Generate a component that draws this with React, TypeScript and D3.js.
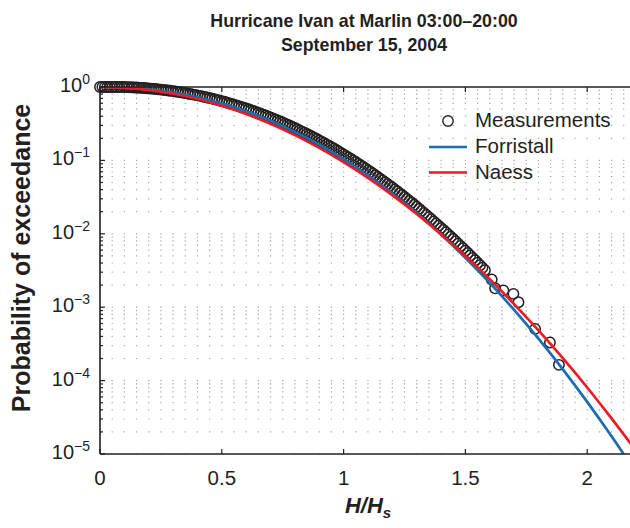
import React from "react";
import * as d3 from "d3";

// ---- data ----
const measX = [
  0, 0.01, 0.02, 0.03, 0.04, 0.05, 0.06, 0.07, 0.08, 0.09,
  0.1, 0.11, 0.12, 0.13, 0.14, 0.15, 0.16, 0.17, 0.18, 0.19,
  0.2, 0.21, 0.22, 0.23, 0.24, 0.25, 0.26, 0.27, 0.28, 0.29,
  0.3, 0.31, 0.32, 0.33, 0.34, 0.35, 0.36, 0.37, 0.38, 0.39,
  0.4, 0.41, 0.42, 0.43, 0.44, 0.45, 0.46, 0.47, 0.48, 0.49,
  0.5, 0.51, 0.52, 0.53, 0.54, 0.55, 0.56, 0.57, 0.58, 0.59,
  0.6, 0.61, 0.62, 0.63, 0.64, 0.65, 0.66, 0.67, 0.68, 0.69,
  0.7, 0.71, 0.72, 0.73, 0.74, 0.75, 0.76, 0.77, 0.78, 0.79,
  0.8, 0.81, 0.82, 0.83, 0.84, 0.85, 0.86, 0.87, 0.88, 0.89,
  0.9, 0.91, 0.92, 0.93, 0.94, 0.95, 0.96, 0.97, 0.98, 0.99,
  1.0, 1.01, 1.02, 1.03, 1.04, 1.05, 1.06, 1.07, 1.08, 1.09,
  1.1, 1.11, 1.12, 1.13, 1.14, 1.15, 1.16, 1.17, 1.18, 1.19,
  1.2, 1.21, 1.22, 1.23, 1.24, 1.25, 1.26, 1.27, 1.28, 1.29,
  1.3, 1.31, 1.32, 1.33, 1.34, 1.35, 1.36, 1.37, 1.38, 1.39,
  1.4, 1.41, 1.42, 1.43, 1.44, 1.45, 1.46, 1.47, 1.48, 1.49,
  1.5, 1.51, 1.52, 1.53, 1.54, 1.55, 1.56, 1.57, 1.58,
  1.608, 1.622, 1.656, 1.697, 1.718, 1.786, 1.847, 1.884,
];
const measP = [
  1, 1, 1, 1, 1, 1, 1, 1, 1, 0.9999,
  0.998, 0.9957, 0.993, 0.9899, 0.9864, 0.9825, 0.9782, 0.9735, 0.9684, 0.9629,
  0.957, 0.9507, 0.944, 0.937, 0.9296, 0.9219, 0.9138, 0.9053, 0.8965, 0.8874,
  0.878, 0.8683, 0.8583, 0.848, 0.8374, 0.8266, 0.8155, 0.8042, 0.7926, 0.7809,
  0.7689, 0.7568, 0.7445, 0.7321, 0.7195, 0.7068, 0.6939, 0.681, 0.668, 0.6549,
  0.6417, 0.6285, 0.6153, 0.602, 0.5888, 0.5755, 0.5623, 0.549, 0.5359, 0.5227,
  0.5096, 0.4966, 0.4837, 0.4709, 0.4582, 0.4456, 0.4331, 0.4208, 0.4086, 0.3966,
  0.3847, 0.3729, 0.3614, 0.35, 0.3388, 0.3278, 0.317, 0.3063, 0.2959, 0.2857,
  0.2757, 0.2659, 0.2563, 0.2469, 0.2378, 0.2289, 0.2201, 0.2116, 0.2034, 0.1953,
  0.1875, 0.1798, 0.1724, 0.1653, 0.1583, 0.1515, 0.145, 0.1386, 0.1325, 0.1266,
  0.1208, 0.1153, 0.11, 0.1048, 0.09985, 0.09506, 0.09046, 0.08603, 0.08178, 0.07769,
  0.07377, 0.07, 0.06639, 0.06294, 0.05963, 0.05647, 0.05344, 0.05055, 0.0478, 0.04516,
  0.04265, 0.04024, 0.03796, 0.03579, 0.03372, 0.03175, 0.02988, 0.02811, 0.02643, 0.02484,
  0.02332, 0.02189, 0.02053, 0.01924, 0.01803, 0.01688, 0.0158, 0.01478, 0.01382, 0.01291,
  0.01205, 0.01126, 0.0105, 0.009782, 0.009117, 0.008489, 0.0079, 0.007347, 0.00683, 0.006346,
  0.005892, 0.005469, 0.00507, 0.0047, 0.004354, 0.004033, 0.003731, 0.00345, 0.00319,
  0.00238, 0.00181, 0.00169, 0.00152, 0.00117, 0.000506, 0.000331, 0.000164,
];

const modelX = [
  0, 0.1, 0.2, 0.3, 0.4, 0.5, 0.6, 0.7, 0.8, 0.9, 1.0,
  1.1, 1.2, 1.3, 1.4, 1.5, 1.6, 1.7, 1.8, 1.9, 2.0, 2.1, 2.2,
];
const forristallP = [
  1, 0.9832, 0.9288, 0.8395, 0.7243, 0.5956, 0.4658, 0.3464, 0.2446, 0.1639, 0.1041,
  0.0626, 0.03564, 0.0192, 0.00977, 0.004707, 0.002142, 0.000919, 0.000372, 0.0001424,
  5.13e-5, 1.74e-5, 5.57e-6,
];
const naessP = [
  1, 0.9767, 0.91, 0.8089, 0.6859, 0.5547, 0.428, 0.3151, 0.2212, 0.1482, 0.0947,
  0.0577, 0.03357, 0.01863, 0.00985, 0.00497, 0.002397, 0.001101, 0.000482, 0.000202,
  8.06e-5, 3.06e-5, 1.11e-5,
];

const xTicks = [0, 0.5, 1, 1.5, 2];
const xTickLabels = ["0", "0.5", "1", "1.5", "2"];
const yExponents = [0, -1, -2, -3, -4, -5];
const titleLines = ["Hurricane Ivan at Marlin 03:00\u201320:00", "September 15, 2004"];
const legendNames = ["Measurements", "Forristall", "Naess"];

const INK = "#231f20";
const BLUE = "#1b6db1";
const RED = "#ec1c24";
const FONT = "'Liberation Sans', Arial, Helvetica, sans-serif";

export default function App() {
  const W = 630;
  const H = 528;
  const left = 100;
  const top = 87;
  const bottom = 454;
  const pxPerUnit = 243.6;
  const right = left + 2.2 * pxPerUnit;

  const x = d3.scaleLinear().domain([0, 2.2]).range([left, right]);
  const y = d3.scaleLog().domain([1e-5, 1]).range([bottom, top]);

  const line = d3
    .line<[number, number]>()
    .x((d) => x(d[0]))
    .y((d) => y(d[1]))
    .curve(d3.curveCatmullRom);

  const fPts: [number, number][] = modelX.map((v, i) => [v, forristallP[i]]);
  const nPts: [number, number][] = modelX.map((v, i) => [v, naessP[i]]);

  const gridVals: number[] = [];
  for (let k = -5; k <= -1; k++) {
    for (let m = 1; m <= 9; m++) gridVals.push(m * Math.pow(10, k));
  }

  return (
    <svg
      width={W}
      height={H}
      style={{ position: "absolute", left: 0, top: 0, background: "#fff" }}
      fontFamily={FONT}
    >
      <defs>
        <clipPath id="plot">
          <rect x={left} y={top} width={right - left} height={bottom - top} />
        </clipPath>
      </defs>
      <rect x={0} y={0} width={W} height={H} fill="#fff" />

      {/* title */}
      {titleLines.map((t, i) => (
        <text
          key={i}
          x={364}
          y={27 + i * 24}
          textAnchor="middle"
          fontSize={17.8}
          fontWeight="bold"
          fill={INK}
        >
          {t}
        </text>
      ))}

      {/* dotted grid */}
      <g stroke="#a3a3a3" strokeWidth={1.2} strokeDasharray="1.2 10.98" strokeDashoffset={0.6}>
        {gridVals.map((g, i) => (
          <line key={i} x1={left} x2={right} y1={y(g)} y2={y(g)} />
        ))}
      </g>

      {/* measurements */}
      <g fill="none" stroke={INK} strokeWidth={1.5}>
        {measX.map((v, i) => (
          <circle key={i} cx={x(v)} cy={y(measP[i])} r={5.2} />
        ))}
      </g>

      {/* model curves */}
      <g clipPath="url(#plot)" fill="none" strokeWidth={2.7}>
        <path d={line(fPts) || ""} stroke={BLUE} />
        <path d={line(nPts) || ""} stroke={RED} />
      </g>

      {/* axes box */}
      <g stroke={INK} strokeWidth={1.6} fill="none">
        <line x1={left} x2={right} y1={bottom} y2={bottom} />
        <line x1={left} x2={right} y1={top} y2={top} />
        <line x1={left} x2={left} y1={top} y2={bottom} />
      </g>

      {/* y ticks */}
      <g stroke={INK} strokeWidth={1.2}>
        {gridVals.concat([1]).map((g, i) => {
          const major = Math.abs(Math.log10(g) - Math.round(Math.log10(g))) < 1e-9;
          return (
            <line key={i} x1={left} x2={left + (major ? 5 : 3)} y1={y(g)} y2={y(g)} />
          );
        })}
      </g>
      {yExponents.map((e) => (
        <text
          key={e}
          x={90}
          y={y(Math.pow(10, e)) + 5}
          textAnchor="end"
          fontSize={20}
          fill={INK}
        >
          <tspan>10</tspan>
          <tspan dy={-8} fontSize={14}>
            {e === 0 ? "0" : "\u2212" + Math.abs(e)}
          </tspan>
        </text>
      ))}

      {/* x ticks */}
      <g stroke={INK} strokeWidth={1.2}>
        {xTicks.map((t) => (
          <g key={t}>
            <line x1={x(t)} x2={x(t)} y1={bottom} y2={bottom - 5} />
            <line x1={x(t)} x2={x(t)} y1={top} y2={top + 5} />
          </g>
        ))}
      </g>
      {xTicks.map((t, i) => (
        <text key={t} x={x(t)} y={485} textAnchor="middle" fontSize={20.5} fill={INK}>
          {xTickLabels[i]}
        </text>
      ))}

      {/* axis labels */}
      <text
        transform={`translate(30, 258) rotate(-90)`}
        textAnchor="middle"
        fontSize={25}
        fontWeight="bold"
        fill={INK}
      >
        Probability of exceedance
      </text>
      <text x={368} y={513} textAnchor="middle" fontSize={22} fontWeight="bold" fontStyle="italic" fill={INK}>
        H/H
        <tspan fontSize={15} dy={5}>
          s
        </tspan>
      </text>

      {/* legend */}
      <circle cx={448} cy={121} r={5.2} fill="none" stroke={INK} strokeWidth={1.4} />
      <line x1={429} x2={467} y1={147} y2={147} stroke={BLUE} strokeWidth={2.7} />
      <line x1={429} x2={467} y1={172.5} y2={172.5} stroke={RED} strokeWidth={2.7} />
      {legendNames.map((n, i) => (
        <text key={n} x={475} y={127 + i * 26} fontSize={20.5} fill={INK}>
          {n}
        </text>
      ))}
    </svg>
  );
}
